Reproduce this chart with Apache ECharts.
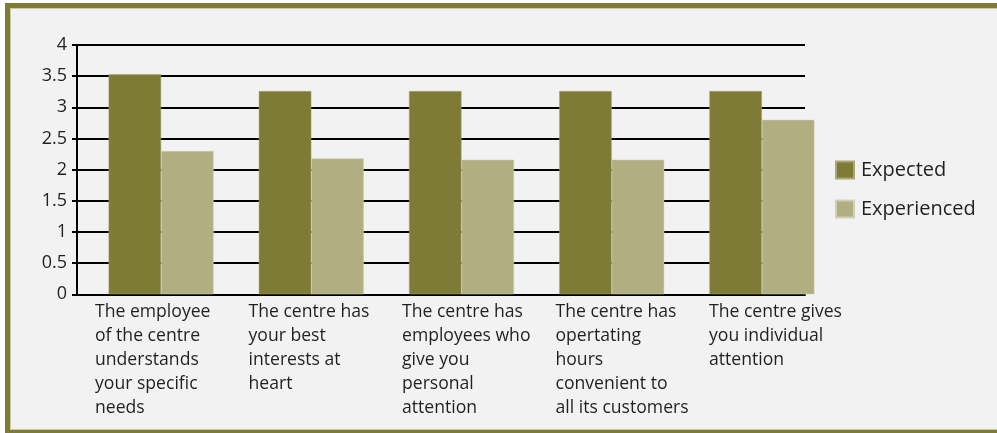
<!DOCTYPE html>
<html>
<head>
<meta charset="utf-8">
<script src="https://cdn.jsdelivr.net/npm/echarts@6/dist/echarts.min.js"></script>
<style>
html,body{margin:0;padding:0;background:#ffffff;}
#chart{width:997px;height:433px;}
</style>
</head>
<body>
<div id="chart"></div>
<script>
var categories = [
  "The employee\nof the centre\nunderstands\nyour specific\nneeds",
  "The centre has\nyour best\ninterests at\nheart",
  "The centre has\nemployees who\ngive you\npersonal\nattention",
  "The centre has\nopertating\nhours\nconvenient to\nall its customers",
  "The centre gives\nyou individual\nattention"
];
var expected = [3.53, 3.26, 3.26, 3.26, 3.26];
var experienced = [2.30, 2.18, 2.16, 2.16, 2.80];
var seriesNames = ["Expected", "Experienced"];

var FONT = "Open Sans";
var TXT = "#231f20";
var chart = echarts.init(document.getElementById('chart'), null, {renderer: 'canvas'});
var gTop = 45, gH = 249.3;
chart.setOption({
  animation: false,
  backgroundColor: '#ffffff',
  textStyle: {fontFamily: FONT},
  graphic: [
    {type: 'rect', z: -10, silent: true,
     shape: {x: 7.5, y: 5.5, width: 1030, height: 427},
     style: {fill: '#f2f2f2', stroke: '#7d7b35', lineWidth: 5}},
    {type: 'rect', z: -9, silent: true,
     shape: {x: 10.5, y: 8.5, width: 1030, height: 421},
     style: {fill: null, stroke: '#c9c8a8', lineWidth: 1}}
  ],
  legend: {
    orient: 'vertical',
    left: 830, top: 155,
    itemWidth: 18, itemHeight: 17, itemGap: 19,
    icon: 'rect',
    data: seriesNames,
    textStyle: {fontFamily: FONT, fontSize: 20, color: TXT, padding: [0, 0, 0, 2]}
  },
  grid: [
    {left: 77, top: gTop, width: 728, height: gH},
    {left: 86, top: gTop, width: 751, height: gH},
    {left: 95, top: gTop, width: 614, height: gH}
  ],
  xAxis: [
    {gridIndex: 0, type: 'category', data: categories,
     axisLine: {show: true, lineStyle: {color: '#000', width: 2}},
     axisTick: {show: false}, axisLabel: {show: false}, splitLine: {show: false}},
    {gridIndex: 1, type: 'category', data: categories,
     axisLine: {show: false}, axisTick: {show: false}, axisLabel: {show: false}},
    {gridIndex: 2, type: 'category', data: categories, boundaryGap: false,
     axisLine: {show: false}, axisTick: {show: false},
     axisLabel: {show: true, interval: 0, align: 'left', verticalAlign: 'top',
       margin: 6, fontFamily: FONT, fontSize: 17.6, lineHeight: 24, color: TXT}}
  ],
  yAxis: [
    {gridIndex: 0, type: 'value', min: 0, max: 4, interval: 0.5,
     axisLine: {show: true, lineStyle: {color: '#000', width: 2}},
     axisTick: {show: true, length: 5, lineStyle: {color: '#000', width: 2}},
     axisLabel: {margin: 10, fontFamily: FONT, fontSize: 18, color: TXT},
     splitLine: {show: true, lineStyle: {color: '#000', width: 2}}},
    {gridIndex: 1, type: 'value', min: 0, max: 4, interval: 0.5, show: false},
    {gridIndex: 2, type: 'value', min: 0, max: 4, interval: 0.5, show: false}
  ],
  series: [
    {name: seriesNames[0], type: 'bar', xAxisIndex: 1, yAxisIndex: 1,
     data: expected, barWidth: 52.5, barGap: '0%',
     itemStyle: {color: '#7d7b35', borderColor: '#a9a777', borderWidth: 0.5}},
    {name: seriesNames[1], type: 'bar', xAxisIndex: 1, yAxisIndex: 1,
     data: experienced, barWidth: 52.5, barGap: '0%',
     itemStyle: {color: '#b1ae82', borderColor: '#d2d0b4', borderWidth: 0.5}}
  ]
});
</script>
</body>
</html>
